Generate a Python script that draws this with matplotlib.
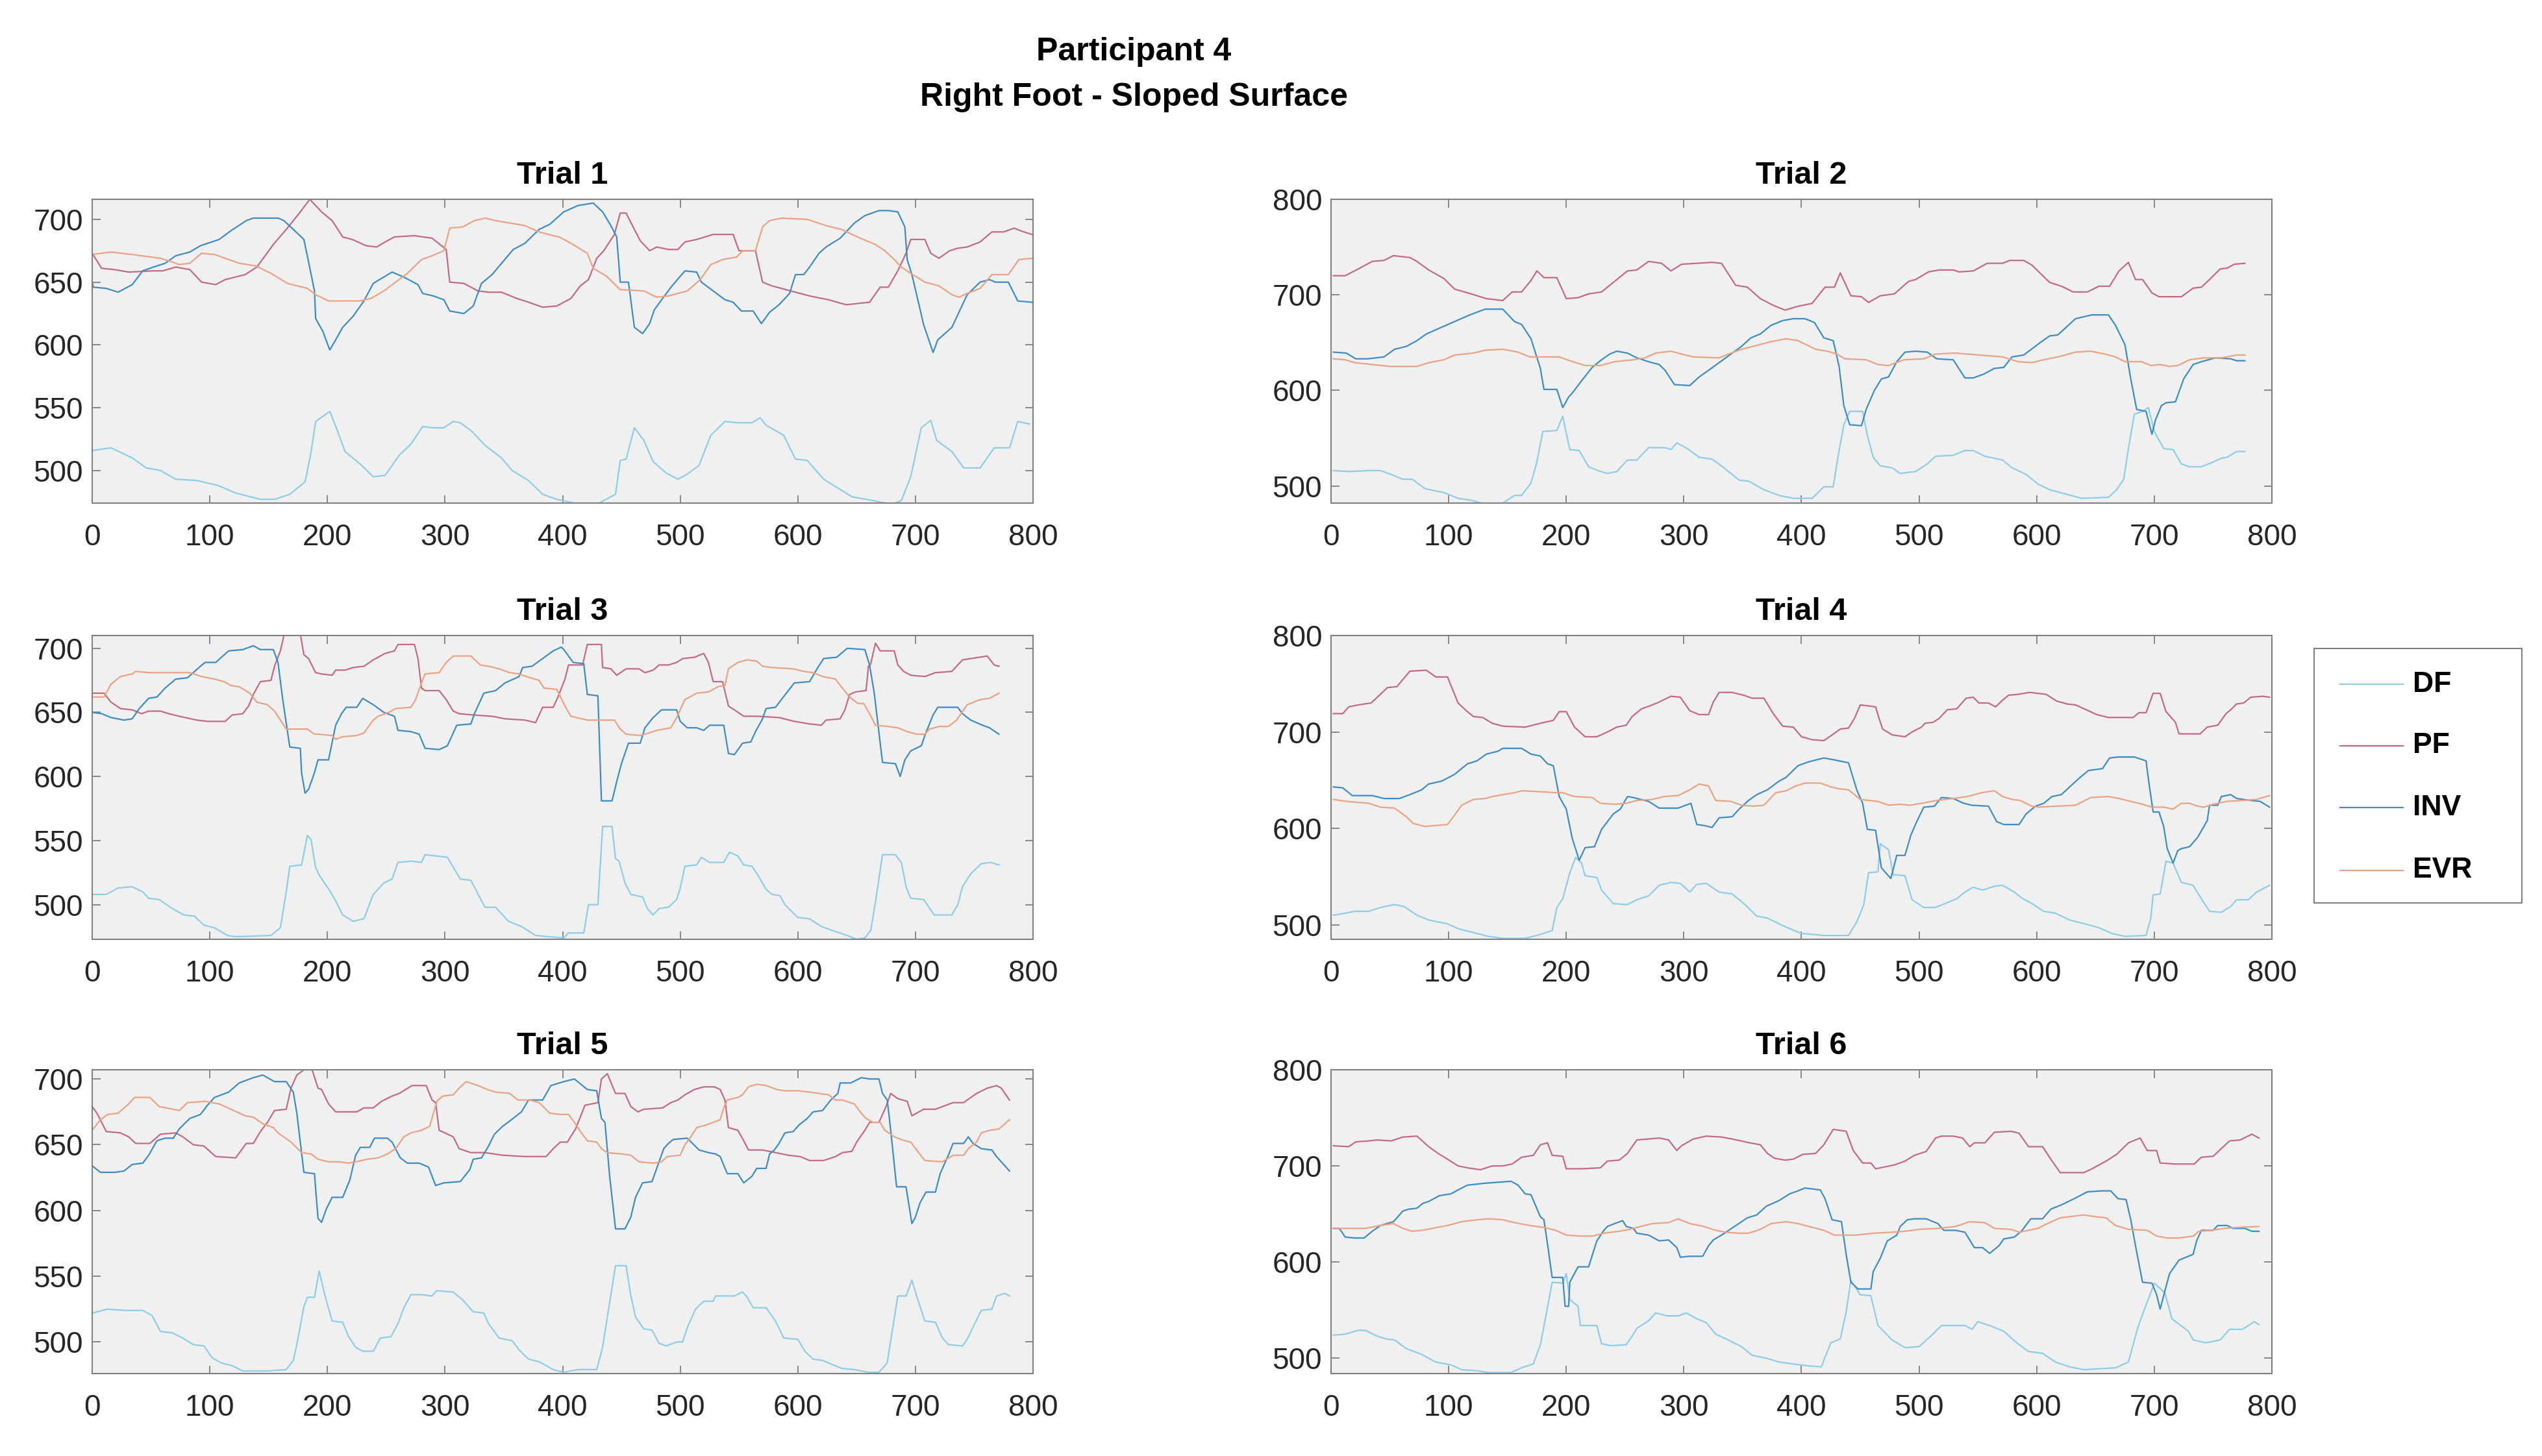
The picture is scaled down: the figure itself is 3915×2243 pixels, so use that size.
import matplotlib
matplotlib.use("Agg")
import matplotlib.pyplot as plt
from matplotlib.lines import Line2D
from matplotlib.patches import Rectangle

plt.rcParams["font.family"] = ["Liberation Sans", "DejaVu Sans"]

# (sample, value) readings for each trial and channel
t1_df = [(0,515),(1,516),(16,518),(34,510),(46,502),(58,500),(71,493),(89,492),(107,488),(122,482),(143,477),(155,477),(168,481),(181,491),(186,514),(190,539),(202,547),(208,533),(215,515),(228,505),(239,495),(249,496),(261,512),(271,521),(281,535),(289,534),(299,534),(307,539),(313,538),(323,531),(334,520),(348,510),(357,500),(371,492),(383,481),(395,477),(410,474),(431,474),(445,481),(449,508),(454,509),(461,534),(469,524),(477,507),(488,498),(498,493),(506,497),(516,504),(526,528),(538,539),(549,538),(561,538),(568,542),(573,536),(588,528),(598,509),(608,508),(622,493),(634,486),(646,479),(664,476),(680,473),(688,476),(696,495),(705,534),(713,540),(718,524),(731,515),(741,502),(755,502),(767,518),(780,518),(787,539),(797,537)]
t1_pf = [(0,673),(8,661),(19,660),(31,658),(52,659),(60,659),(71,662),(83,660),(93,650),(105,648),(113,652),(130,656),(140,662),(154,680),(165,692),(177,706),(185,716),(195,706),(204,699),(213,686),(221,684),(233,679),(242,678),(249,682),(257,686),(274,687),(289,685),(301,676),(304,650),(316,649),(328,643),(337,642),(348,642),(361,637),(371,634),(383,630),(395,631),(407,637),(415,647),(422,652),(429,669),(435,675),(444,688),(449,705),(454,705),(461,692),(466,683),(474,675),(480,678),(490,676),(498,676),(504,682),(514,684),(528,688),(545,688),(550,675),(564,675),(570,650),(578,647),(594,643),(610,639),(626,636),(641,632),(661,634),(670,646),(677,646),(685,659),(692,673),(696,684),(708,684),(713,673),(720,669),(729,675),(736,677),(744,678),(755,682),(765,690),(775,690),(784,693),(789,691),(799,688)]
t1_inv = [(0,650),(1,646),(12,645),(22,642),(34,648),(43,659),(52,662),(62,665),(71,671),(83,674),(92,679),(108,684),(118,691),(131,699),(137,701),(158,701),(163,699),(171,692),(180,684),(184,666),(189,643),(190,621),(196,611),(202,596),(207,604),(213,614),(222,623),(231,635),(239,649),(246,653),(255,658),(265,654),(277,648),(281,641),(290,639),(299,636),(304,627),(316,625),(324,631),(331,649),(340,656),(349,666),(358,676),(368,681),(380,692),(389,696),(401,706),(413,711),(426,713),(434,706),(441,695),(446,686),(449,650),(456,650),(461,614),(468,609),(474,617),(478,628),(485,637),(493,647),(504,659),(514,658),(518,650),(528,643),(538,636),(545,634),(552,627),(562,627),(569,617),(576,626),(584,632),(593,641),(598,656),(605,656),(610,662),(618,673),(624,678),(636,685),(641,690),(648,697),(657,703),(669,707),(677,707),(685,706),(691,694),(693,668),(697,656),(707,616),(715,594),(719,604),(731,614),(739,630),(744,640),(755,650),(763,652),(768,650),(779,650),(787,635),(799,634)]
t1_evr = [(0,672),(8,673),(16,674),(34,672),(58,669),(68,666),(74,664),(83,665),(93,673),(104,672),(116,668),(125,665),(139,663),(152,657),(166,649),(183,645),(190,640),(201,635),(227,635),(237,637),(248,643),(258,650),(268,657),(280,668),(289,671),(299,675),(304,693),(315,694),(325,699),(334,701),(343,699),(368,695),(380,690),(392,687),(397,686),(407,681),(421,673),(426,661),(437,655),(449,644),(469,643),(480,638),(490,639),(506,643),(517,652),(526,664),(536,668),(548,670),(553,675),(564,675),(570,694),(576,699),(586,701),(608,700),(624,695),(637,692),(653,685),(666,680),(674,675),(682,668),(688,662),(696,657),(708,650),(720,647),(731,640),(737,638),(744,641),(755,645),(765,656),(779,656),(788,668),(799,669)]

t2_df = [(2,516),(16,515),(32,516),(42,516),(51,512),(61,507),(69,507),(80,497),(96,493),(108,487),(119,485),(131,481),(146,482),(156,490),(162,490),(170,503),(175,525),(180,557),(192,558),(197,573),(200,555),(203,538),(211,537),(219,520),(227,516),(235,513),(243,515),(252,527),(260,527),(270,540),(284,540),(289,538),(294,545),(303,539),(313,530),(324,528),(333,520),(347,506),(355,505),(368,496),(381,490),(393,487),(409,487),(419,499),(427,499),(431,530),(436,564),(441,578),(452,578),(456,553),(461,530),(467,521),(477,519),(484,513),(497,515),(507,523),(514,531),(529,532),(539,537),(546,537),(556,531),(571,527),(579,519),(591,512),(601,502),(611,496),(626,491),(638,487),(661,488),(668,496),(674,507),(678,539),(683,575),(690,578),(695,582),(700,557),(708,539),(716,538),(723,523),(730,520),(740,520),(750,525),(757,529),(762,530),(770,536),(777,536)]
t2_pf = [(2,720),(12,720),(23,727),(35,735),(45,736),(53,741),(67,739),(73,735),(83,726),(96,717),(105,706),(119,701),(132,696),(146,694),(154,703),(162,703),(170,715),(175,725),(181,718),(192,718),(200,696),(210,697),(219,701),(230,703),(241,714),(252,725),(260,726),(270,735),(281,733),(289,725),(298,732),(311,733),(324,734),(332,733),(344,710),(354,708),(365,696),(376,689),(386,684),(397,688),(409,691),(420,708),(428,708),(433,723),(442,699),(451,698),(457,692),(467,699),(479,701),(491,714),(497,716),(508,724),(517,726),(529,726),(534,724),(546,725),(558,733),(571,733),(577,736),(589,736),(596,731),(611,713),(621,709),(631,703),(643,703),(653,709),(662,709),(670,725),(678,734),(684,716),(690,716),(698,702),(704,698),(723,698),(733,707),(740,708),(747,716),(756,727),(762,728),(768,732),(777,733)]
t2_inv = [(2,640),(13,639),(21,633),(31,633),(45,635),(54,643),(64,646),(73,652),(81,659),(92,665),(105,672),(118,679),(131,685),(146,685),(156,672),(162,669),(170,654),(178,623),(181,601),(192,601),(197,582),(202,593),(205,597),(213,610),(222,624),(230,632),(237,638),(243,641),(252,639),(260,634),(270,630),(279,627),(284,621),(292,606),(305,605),(313,614),(321,621),(330,629),(340,638),(349,646),(357,655),(365,659),(374,668),(384,673),(393,675),(403,675),(411,671),(419,655),(427,652),(432,625),(436,584),(441,564),(451,563),(455,580),(462,600),(468,612),(474,614),(481,630),(488,640),(497,641),(507,640),(515,633),(529,632),(539,613),(546,613),(555,617),(564,623),(572,624),(579,635),(589,637),(603,650),(611,657),(618,658),(633,675),(647,679),(661,679),(667,668),(675,648),(680,612),(685,580),(693,578),(698,554),(701,569),(706,584),(710,587),(718,588),(725,612),(733,627),(740,630),(752,634),(765,633),(770,631),(777,631)]
t2_evr = [(2,633),(12,632),(20,629),(35,627),(51,625),(73,625),(83,629),(96,632),(105,637),(121,639),(131,642),(146,643),(159,640),(169,635),(194,635),(203,631),(216,626),(229,626),(241,630),(257,632),(267,634),(276,639),(289,641),(298,638),(308,635),(330,634),(340,639),(349,643),(362,647),(374,651),(387,654),(397,652),(412,643),(422,641),(430,638),(437,633),(455,632),(465,627),(474,626),(487,632),(504,633),(514,638),(531,639),(541,638),(551,637),(571,635),(584,630),(596,629),(606,632),(618,635),(633,640),(646,641),(658,638),(667,635),(675,630),(689,630),(697,626),(705,627),(713,625),(720,626),(730,632),(742,634),(757,634),(770,637),(777,637)]

t3_df = [(0,508),(12,508),(22,513),(34,514),(43,510),(48,505),(57,504),(68,497),(78,492),(87,491),(95,484),(104,482),(115,476),(122,475),(152,476),(160,482),(165,510),(168,530),(178,531),(183,554),(186,551),(190,529),(193,523),(202,511),(207,503),(213,492),(222,487),(231,489),(239,508),(248,517),(255,520),(260,533),(271,534),(280,533),(283,539),(302,537),(313,520),(322,519),(334,498),(343,498),(354,487),(365,483),(377,476),(389,475),(401,474),(405,478),(418,478),(422,500),(430,500),(434,561),(442,561),(445,536),(448,534),(453,517),(458,508),(468,506),(472,497),(477,492),(482,497),(490,498),(497,504),(500,513),(504,530),(514,531),(518,537),(525,533),(537,533),(542,541),(549,538),(554,531),(561,530),(566,523),(573,512),(578,508),(585,507),(589,500),(600,490),(610,489),(620,483),(629,480),(642,476),(650,473),(657,474),(662,480),(666,502),(672,539),(683,539),(688,533),(692,514),(696,505),(707,504),(716,492),(731,492),(736,500),(740,514),(747,524),(756,532),(764,533),(771,531)]
t3_pf = [(0,665),(10,665),(16,658),(24,653),(34,652),(42,649),(48,651),(58,651),(65,649),(74,647),(89,644),(98,643),(113,643),(119,648),(128,649),(133,655),(137,664),(143,674),(152,675),(155,686),(160,698),(163,710),(177,711),(180,695),(184,692),(190,681),(195,680),(204,679),(207,683),(215,683),(222,685),(231,686),(239,691),(249,696),(257,698),(260,703),(274,703),(277,692),(280,669),(283,667),(295,667),(301,660),(307,651),(312,649),(324,648),(340,647),(351,645),(368,644),(377,642),(383,654),(392,654),(396,662),(402,676),(405,687),(417,687),(421,703),(433,703),(434,685),(441,684),(446,679),(454,684),(465,684),(470,681),(477,683),(482,687),(490,687),(497,689),(502,692),(512,693),(520,696),(524,689),(528,674),(536,674),(541,655),(546,652),(554,647),(565,647),(584,646),(597,643),(610,641),(620,640),(624,644),(636,645),(640,652),(644,664),(649,666),(658,667),(660,686),(662,688),(666,704),(670,698),(682,698),(685,687),(690,682),(696,679),(708,678),(717,681),(731,682),(740,691),(747,692),(761,694),(767,687),(771,686)]
t3_inv = [(0,650),(8,649),(16,646),(27,644),(34,645),(40,653),(48,661),(55,662),(62,669),(71,676),(81,677),(92,686),(96,689),(105,689),(116,698),(128,699),(137,702),(143,699),(154,699),(158,689),(162,660),(168,623),(177,622),(178,603),(181,587),(184,590),(189,603),(192,613),(201,613),(207,640),(212,649),(216,654),(225,654),(230,661),(239,656),(248,650),(257,647),(260,636),(271,635),(278,633),(283,622),(295,621),(302,624),(310,640),(322,641),(325,649),(333,665),(343,667),(351,673),(363,678),(366,685),(374,686),(383,692),(392,698),(399,701),(401,699),(409,689),(418,688),(421,664),(430,663),(433,581),(442,581),(446,596),(450,610),(456,626),(466,626),(470,638),(477,646),(484,652),(497,652),(500,643),(506,638),(514,638),(520,636),(525,640),(537,640),(541,618),(546,617),(553,626),(560,627),(564,635),(570,645),(573,653),(581,654),(586,660),(597,673),(610,674),(617,685),(622,692),(633,693),(642,700),(657,699),(661,687),(665,665),(672,611),(683,610),(687,600),(691,613),(696,620),(705,624),(708,632),(715,648),(719,654),(736,654),(740,649),(747,644),(757,640),(763,638),(771,633)]
t3_evr = [(0,662),(10,662),(16,672),(24,678),(34,680),(37,682),(49,681),(83,681),(93,678),(104,676),(112,674),(118,671),(125,670),(134,665),(140,658),(149,656),(155,651),(165,637),(183,637),(189,633),(192,633),(204,632),(207,629),(213,631),(225,632),(231,634),(239,644),(243,647),(252,650),(258,653),(271,654),(275,660),(278,668),(283,680),(295,681),(301,689),(307,694),(322,694),(330,687),(337,686),(346,684),(355,681),(363,680),(369,678),(380,675),(384,669),(395,668),(402,655),(407,647),(421,644),(434,644),(444,644),(449,637),(454,633),(466,632),(470,633),(480,636),(492,638),(497,646),(504,660),(514,665),(524,666),(532,670),(538,671),(541,684),(549,689),(557,691),(565,690),(570,686),(578,685),(596,684),(605,682),(613,681),(621,678),(632,676),(637,670),(644,662),(651,657),(656,657),(661,649),(666,640),(677,639),(685,638),(693,635),(701,633),(708,633),(712,637),(720,639),(728,639),(735,644),(744,656),(755,660),(763,661),(769,664),(771,665)]

t4_df = [(2,510),(12,512),(20,514),(32,514),(42,518),(54,521),(62,519),(73,510),(83,505),(99,501),(108,496),(121,492),(134,488),(146,486),(165,486),(175,489),(188,494),(192,518),(197,527),(203,554),(208,570),(213,564),(216,551),(226,549),(230,536),(240,522),(252,521),(260,526),(270,530),(279,541),(289,544),(297,543),(305,534),(311,542),(319,543),(330,534),(341,532),(352,521),(362,509),(371,507),(381,501),(390,496),(400,491),(419,489),(440,489),(447,503),(453,521),(457,554),(465,555),(467,584),(474,578),(478,552),(488,551),(494,526),(504,518),(514,518),(524,523),(532,527),(539,534),(546,539),(554,536),(564,540),(571,541),(581,534),(587,528),(596,522),(606,514),(616,512),(628,505),(641,501),(653,497),(664,491),(675,488),(693,489),(697,507),(699,531),(705,532),(710,566),(716,564),(723,544),(733,541),(740,527),(747,514),(757,513),(765,519),(770,526),(780,526),(787,534),(798,541)]
t4_pf = [(2,719),(10,719),(15,726),(23,728),(34,730),(48,746),(56,747),(67,763),(81,764),(89,757),(99,757),(108,730),(115,722),(121,716),(129,715),(137,709),(146,706),(165,705),(178,709),(189,712),(194,721),(200,721),(207,705),(216,695),(226,695),(235,700),(243,705),(251,707),(256,716),(264,724),(271,727),(279,731),(289,737),(297,736),(305,722),(313,718),(321,718),(325,731),(330,741),(341,741),(351,738),(358,735),(368,735),(376,719),(384,706),(393,705),(400,695),(409,692),(419,691),(425,696),(433,703),(440,704),(445,714),(450,728),(457,727),(463,726),(466,714),(469,703),(477,697),(488,695),(494,700),(502,705),(505,709),(512,710),(517,714),(524,723),(532,724),(540,735),(546,736),(551,730),(559,730),(565,726),(571,733),(576,738),(584,739),(594,741),(608,739),(617,732),(626,729),(633,728),(644,722),(651,718),(661,715),(682,715),(687,720),(693,720),(699,740),(705,740),(710,721),(718,710),(721,698),(739,698),(745,705),(754,707),(761,719),(765,723),(770,729),(776,730),(782,736),(792,737),(798,736)]
t4_inv = [(2,643),(10,642),(18,634),(35,634),(45,631),(58,631),(67,635),(77,640),(83,646),(94,649),(105,656),(116,667),(124,670),(132,677),(142,680),(146,683),(162,683),(170,677),(178,675),(184,667),(189,665),(194,633),(200,620),(205,590),(211,567),(216,580),(224,581),(230,599),(240,615),(246,620),(252,633),(257,632),(270,628),(279,621),(295,621),(306,626),(311,604),(317,603),(324,601),(330,611),(341,612),(347,620),(355,629),(362,635),(371,640),(381,649),(387,653),(397,665),(406,669),(419,673),(428,671),(440,668),(447,640),(452,626),(456,599),(463,598),(468,559),(476,548),(481,572),(488,572),(493,593),(498,607),(504,622),(513,623),(519,632),(529,631),(538,626),(545,624),(559,623),(566,607),(572,604),(585,604),(591,615),(599,623),(606,626),(613,633),(621,635),(628,643),(637,653),(644,660),(656,662),(662,673),(669,674),(683,674),(693,670),(695,651),(699,617),(704,617),(708,602),(711,579),(716,564),(720,577),(723,579),(730,581),(737,591),(745,608),(747,624),(754,624),(757,633),(765,635),(770,631),(782,629),(790,628),(798,622)]
t4_evr = [(2,630),(13,628),(32,626),(42,622),(54,621),(64,612),(70,605),(80,602),(89,603),(99,604),(104,612),(111,624),(121,630),(131,631),(137,633),(146,635),(156,637),(162,639),(178,638),(191,637),(197,637),(207,633),(222,632),(229,626),(241,625),(251,626),(260,629),(273,630),(283,633),(295,634),(305,640),(313,646),(321,644),(327,629),(340,628),(349,624),(359,623),(368,624),(378,637),(387,639),(395,644),(403,647),(416,647),(425,643),(432,641),(440,640),(450,630),(457,629),(465,628),(474,624),(484,625),(492,624),(502,626),(515,629),(529,631),(541,633),(553,637),(564,639),(571,633),(579,630),(586,629),(596,623),(601,622),(616,623),(633,624),(646,632),(661,633),(670,631),(680,628),(690,625),(698,622),(708,622),(716,620),(723,626),(730,626),(737,623),(742,622),(750,625),(762,628),(775,629),(787,630),(795,633),(798,634)]

t5_df = [(0,522),(13,525),(28,524),(43,524),(51,520),(58,508),(68,507),(77,503),(86,498),(95,497),(102,488),(110,484),(119,482),(128,478),(149,478),(165,479),(171,486),(174,498),(180,527),(183,534),(189,534),(193,554),(198,535),(204,516),(213,515),(218,504),(224,496),(230,493),(239,493),(245,503),(254,504),(260,514),(265,526),(271,536),(280,536),(289,535),(293,539),(307,538),(315,532),(324,523),(333,522),(337,514),(346,503),(357,501),(363,494),(371,487),(380,485),(392,479),(401,477),(413,479),(429,479),(434,496),(438,519),(445,558),(454,558),(458,535),(462,519),(469,510),(476,509),(482,499),(488,497),(497,500),(502,500),(506,511),(513,525),(520,531),(528,531),(530,535),(538,535),(546,535),(553,538),(557,534),(562,526),(573,526),(581,516),(588,503),(600,502),(606,493),(613,487),(621,486),(629,483),(637,480),(648,479),(660,477),(669,477),(676,484),(685,535),(692,535),(697,547),(701,535),(708,516),(717,515),(723,503),(728,498),(740,497),(744,502),(751,515),(756,524),(765,525),(769,535),(776,537),(780,535)]
t5_pf = [(0,679),(4,674),(12,660),(24,659),(31,656),(37,651),(49,651),(58,658),(71,659),(77,656),(86,650),(95,649),(105,641),(122,640),(131,651),(137,651),(143,660),(149,667),(155,676),(165,677),(169,693),(174,703),(180,707),(187,707),(192,693),(195,692),(201,681),(207,675),(225,675),(231,678),(239,678),(246,683),(255,687),(261,689),(272,695),(284,695),(289,684),(292,682),(295,661),(307,656),(312,647),(322,644),(334,644),(349,642),(368,641),(386,641),(392,647),(398,652),(404,652),(411,662),(419,680),(430,682),(433,700),(438,704),(445,689),(453,689),(458,679),(464,675),(469,677),(485,678),(492,682),(498,684),(504,688),(512,692),(520,694),(529,694),(534,692),(538,684),(541,663),(549,661),(554,653),(558,646),(570,646),(581,644),(592,642),(602,641),(610,638),(622,638),(632,641),(638,644),(646,645),(650,652),(657,661),(661,667),(669,667),(675,679),(679,689),(685,685),(693,683),(697,672),(707,677),(717,677),(723,679),(732,682),(741,682),(744,684),(752,689),(761,693),(769,695),(773,693),(780,684)]
t5_inv = [(0,634),(7,629),(19,629),(27,630),(34,635),(43,636),(48,642),(55,653),(62,655),(69,655),(74,662),(83,670),(92,673),(98,680),(104,686),(116,690),(125,697),(137,701),(145,703),(155,698),(165,698),(171,690),(174,674),(180,629),(189,628),(192,594),(195,591),(199,601),(204,610),(213,610),(219,623),(224,642),(228,648),(236,648),(240,655),(251,655),(255,652),(262,640),(268,636),(278,636),(286,633),(292,619),(299,621),(313,622),(321,631),(324,639),(331,640),(337,649),(342,658),(349,664),(355,668),(365,675),(371,684),(383,684),(390,695),(401,698),(410,700),(421,692),(429,691),(433,670),(436,667),(440,626),(445,586),(453,586),(458,595),(462,610),(468,621),(476,622),(482,637),(486,647),(490,651),(494,654),(506,655),(516,646),(524,644),(530,643),(534,641),(540,628),(549,628),(554,621),(561,626),(565,632),(573,632),(576,643),(580,646),(584,651),(589,659),(596,660),(601,665),(608,670),(613,675),(621,676),(628,684),(634,689),(636,697),(645,697),(654,701),(661,700),(669,700),(672,689),(676,684),(678,669),(684,618),(692,618),(697,590),(700,595),(704,606),(709,614),(717,614),(721,628),(728,642),(732,651),(741,651),(745,656),(749,651),(756,647),(765,646),(769,641),(780,630)]
t5_evr = [(0,661),(7,669),(13,673),(22,674),(31,681),(36,686),(49,686),(57,679),(63,678),(74,676),(81,682),(96,683),(108,681),(118,677),(130,672),(137,671),(145,666),(154,663),(158,659),(169,652),(178,644),(186,643),(192,639),(201,637),(210,637),(218,636),(224,637),(234,639),(243,640),(251,643),(258,647),(265,656),(271,659),(280,661),(287,664),(293,683),(298,687),(307,688),(312,693),(318,698),(328,695),(336,692),(343,690),(355,689),(362,684),(372,684),(380,682),(389,674),(398,673),(405,673),(410,667),(416,659),(421,653),(429,652),(433,647),(438,644),(450,643),(458,642),(465,637),(477,636),(484,637),(489,641),(500,642),(504,650),(509,656),(514,663),(522,665),(528,667),(534,669),(537,678),(540,684),(549,686),(553,688),(558,694),(565,696),(573,695),(582,692),(589,691),(600,691),(610,690),(618,689),(626,688),(632,684),(638,684),(648,681),(653,675),(658,670),(664,667),(670,667),(674,661),(682,656),(691,653),(696,652),(701,646),(708,638),(723,637),(732,642),(741,642),(745,647),(752,652),(756,659),(763,661),(771,662),(780,669)]

t6_df = [(2,524),(12,525),(23,529),(29,529),(39,523),(47,520),(54,519),(64,510),(77,504),(89,496),(102,493),(111,488),(124,487),(134,485),(153,485),(162,490),(172,494),(178,514),(183,546),(188,579),(197,578),(200,588),(203,561),(210,554),(212,534),(226,534),(230,515),(238,513),(251,514),(256,523),(260,531),(270,539),(276,547),(286,544),(295,544),(302,547),(311,541),(319,537),(327,525),(336,520),(349,512),(358,503),(370,500),(381,496),(393,494),(406,492),(417,491),(420,501),(425,516),(433,520),(438,548),(442,581),(450,566),(459,565),(465,534),(477,519),(488,511),(500,512),(510,523),(519,534),(539,534),(545,530),(550,538),(562,533),(572,528),(583,516),(593,507),(605,505),(616,496),(628,491),(640,488),(667,490),(678,496),(686,532),(692,552),(700,578),(709,568),(715,541),(729,528),(733,519),(744,516),(756,519),(764,530),(775,530),(785,538),(789,535)]
t6_pf = [(2,721),(15,720),(21,725),(32,726),(39,727),(51,726),(61,730),(73,731),(83,720),(91,713),(99,707),(108,700),(116,698),(127,696),(137,700),(146,700),(154,702),(162,709),(172,711),(178,722),(184,724),(188,711),(197,710),(200,697),(213,697),(229,698),(235,705),(245,706),(252,713),(260,727),(270,728),(279,729),(287,727),(294,716),(298,721),(308,728),(319,731),(332,730),(341,728),(356,724),(365,722),(371,713),(377,708),(386,706),(393,707),(401,712),(412,713),(419,722),(427,738),(438,736),(444,716),(452,703),(459,703),(463,697),(471,699),(479,701),(488,705),(496,711),(506,715),(514,729),(519,731),(529,731),(537,729),(543,720),(547,724),(556,724),(564,735),(578,736),(585,734),(593,720),(605,720),(612,707),(620,693),(640,693),(647,697),(659,705),(668,712),(678,724),(688,729),(694,716),(702,716),(705,703),(717,702),(734,702),(740,709),(750,710),(764,726),(773,727),(783,733),(789,729)]
t6_inv = [(2,635),(7,635),(12,626),(20,625),(28,625),(35,632),(42,638),(53,642),(56,646),(61,653),(66,655),(73,656),(78,661),(83,663),(92,669),(102,671),(108,675),(116,680),(131,682),(153,684),(159,680),(165,671),(170,670),(178,647),(181,644),(184,619),(188,584),(197,584),(199,554),(202,554),(203,579),(210,595),(219,595),(226,622),(232,633),(235,637),(241,640),(248,643),(251,637),(257,635),(260,630),(270,628),(279,622),(287,623),(294,615),(297,605),(305,606),(316,606),(321,617),(325,623),(332,628),(343,637),(354,646),(362,649),(370,658),(381,664),(390,671),(397,674),(403,677),(416,675),(420,666),(426,644),(434,642),(438,608),(442,579),(448,572),(459,572),(461,590),(467,604),(473,622),(481,628),(484,637),(490,644),(496,645),(506,645),(516,640),(521,633),(531,633),(539,631),(547,615),(554,615),(560,609),(568,617),(572,624),(581,626),(587,632),(595,645),(605,645),(612,655),(622,660),(632,666),(643,673),(655,674),(663,674),(669,666),(676,665),(680,644),(684,617),(690,579),(698,578),(702,566),(705,551),(709,570),(713,588),(721,602),(729,606),(733,608),(736,622),(740,633),(750,633),(754,638),(762,638),(767,635),(777,635),(783,632),(789,632)]
t6_evr = [(2,635),(16,635),(29,635),(42,638),(53,640),(61,635),(69,632),(77,633),(86,635),(99,638),(111,642),(124,644),(134,645),(146,644),(156,641),(169,638),(181,636),(191,633),(200,628),(213,627),(222,627),(232,630),(245,632),(254,634),(260,636),(273,640),(287,641),(295,645),(305,640),(317,637),(327,633),(336,631),(346,630),(355,630),(365,634),(374,640),(387,642),(397,640),(406,637),(419,633),(428,628),(446,628),(461,630),(477,631),(488,632),(500,634),(516,635),(531,637),(543,642),(556,641),(564,635),(578,634),(585,631),(601,635),(609,640),(620,646),(640,649),(651,647),(659,646),(667,638),(678,634),(694,633),(702,627),(711,625),(721,625),(733,627),(738,632),(748,633),(760,635),(771,636),(789,637)]

channels = ["DF", "PF", "INV", "EVR"]
colors = {"DF": "#8ecde6", "PF": "#c46a80", "INV": "#3d8cc4", "EVR": "#eba282"}

trials = [
    ("Trial 1", [t1_df, t1_pf, t1_inv, t1_evr], (474, 716), [500, 550, 600, 650, 700]),
    ("Trial 2", [t2_df, t2_pf, t2_inv, t2_evr], (482, 800), [500, 600, 700, 800]),
    ("Trial 3", [t3_df, t3_pf, t3_inv, t3_evr], (473, 710), [500, 550, 600, 650, 700]),
    ("Trial 4", [t4_df, t4_pf, t4_inv, t4_evr], (485, 800), [500, 600, 700, 800]),
    ("Trial 5", [t5_df, t5_pf, t5_inv, t5_evr], (476, 707), [500, 550, 600, 650, 700]),
    ("Trial 6", [t6_df, t6_pf, t6_inv, t6_evr], (484, 800), [500, 600, 700, 800]),
]

W, H = 3916, 2243
fig = plt.figure(figsize=(W / 100, H / 100), dpi=100)
fig.patch.set_facecolor("white")

col_left = [142, 2050]
row_top = [307, 979, 1648]
ax_w, ax_h = 1449, 468

for i, (title, series, ylim, yticks) in enumerate(trials):
    r, c = divmod(i, 2)
    x0 = col_left[c] / W
    y0 = 1 - (row_top[r] + ax_h) / H
    ax = fig.add_axes([x0, y0, ax_w / W, ax_h / H])
    ax.set_facecolor("#f0f0f0")
    for name, pts in zip(channels, series):
        xs = [p[0] for p in pts]
        ys = [p[1] for p in pts]
        ax.plot(xs, ys, color=colors[name], lw=1.6)
    ax.set_xlim(0, 800)
    ax.set_ylim(*ylim)
    ax.set_xticks(range(0, 801, 100))
    ax.set_yticks(yticks)
    ax.tick_params(direction="in", length=9, width=1.3, colors="#808080",
                   labelcolor="#262626", labelsize=33, top=True, right=True)
    ax.tick_params(axis="y", pad=10)
    ax.tick_params(axis="x", pad=22)
    for sp in ax.spines.values():
        sp.set_color("#808080")
        sp.set_linewidth(1.5)
    ax.set_title(title, fontsize=35, fontweight="bold", pad=17)

fig.text(0.446, 1 - 80 / H, "Participant 4", ha="center", va="center",
         fontsize=36, fontweight="bold")
fig.text(0.446, 1 - 150 / H, "Right Foot - Sloped Surface", ha="center", va="center",
         fontsize=36, fontweight="bold")

# legend box drawn in figure pixels
box_l, box_t, box_r, box_b = 3564, 999, 3884, 1391
fig.patches.append(Rectangle((box_l / W, 1 - box_b / H), (box_r - box_l) / W,
                             (box_b - box_t) / H, transform=fig.transFigure,
                             facecolor="white", edgecolor="#808080", lw=1.5))
entry_y = [1054, 1149, 1244, 1341]
for name, yy in zip(channels, entry_y):
    fy = 1 - yy / H
    fig.add_artist(Line2D([3604 / W, 3701 / W], [fy, fy], transform=fig.transFigure,
                          color=colors[name], lw=1.6))
    fig.text(3716 / W, fy, name, ha="left", va="center", fontsize=32,
             fontweight="bold", color="#000000")

fig.savefig("out.png", dpi=100, facecolor="white")
